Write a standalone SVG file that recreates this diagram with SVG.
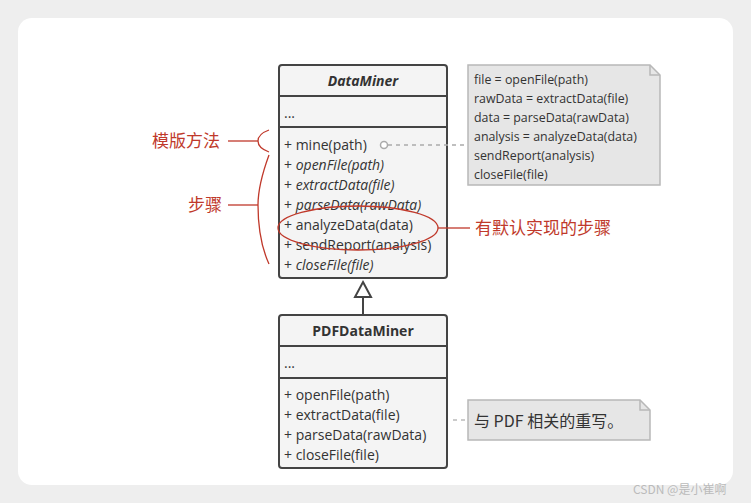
<svg xmlns="http://www.w3.org/2000/svg" width="751" height="503" viewBox="0 0 751 503">
<style>
.box{fill:#f4f4f4;stroke:#444;stroke-width:2}
.t{font-family:"Open Sans","Noto Sans",sans-serif;font-size:14px;fill:#333}
.i{font-style:italic}
.b{font-weight:bold}
.r{font-family:"Noto Sans CJK SC",sans-serif;font-size:17px;fill:#c0392b}
.red{stroke:#c0392b;stroke-width:1.3;fill:none}
.note{fill:#e6e6e6;stroke:#b8b8b8;stroke-width:1.5}
.nt{font-family:"Open Sans","Noto Sans",sans-serif;font-size:12.4px;fill:#333}
</style>
<rect width="751" height="503" fill="#eeeeee"/>
<rect x="18" y="18" width="715" height="467" rx="14" fill="#ffffff"/>
<g id="DataMiner">
<rect class="box" x="279" y="65" width="168" height="213" rx="3"/>
<line x1="279" y1="96" x2="447" y2="96" stroke="#444" stroke-width="2"/>
<line x1="279" y1="127" x2="447" y2="127" stroke="#444" stroke-width="2"/>
<text class="t i b" x="363" y="86" text-anchor="middle">DataMiner</text>
<text class="t" x="284" y="118">...</text>
<text class="t" x="284" y="150">+ mine(path)</text>
<text class="t" x="284" y="170">+ <tspan class="i">openFile(path)</tspan></text>
<text class="t" x="284" y="190">+ <tspan class="i">extractData(file)</tspan></text>
<text class="t" x="284" y="210">+ <tspan class="i">parseData(rawData)</tspan></text>
<text class="t" x="284" y="230">+ analyzeData(data)</text>
<text class="t" x="284" y="250">+ sendReport(analysis)</text>
<text class="t" x="284" y="270">+ <tspan class="i">closeFile(file)</tspan></text>
</g>
<g id="PDFDataMiner">
<rect class="box" x="279" y="315" width="168" height="153" rx="3"/>
<line x1="279" y1="346" x2="447" y2="346" stroke="#444" stroke-width="2"/>
<line x1="279" y1="378" x2="447" y2="378" stroke="#444" stroke-width="2"/>
<text class="t b" x="363" y="336" text-anchor="middle">PDFDataMiner</text>
<text class="t" x="284" y="368">...</text>
<text class="t" x="284" y="400">+ openFile(path)</text>
<text class="t" x="284" y="420">+ extractData(file)</text>
<text class="t" x="284" y="440">+ parseData(rawData)</text>
<text class="t" x="284" y="460">+ closeFile(file)</text>
</g>
<g id="note1">
<path class="note" d="M468,65 H650 L660,75 V185 H468 Z"/>
<path d="M650,65 V75 H660" fill="none" stroke="#b8b8b8" stroke-width="1.5"/>
<text class="nt" x="474" y="84">file = openFile(path)</text>
<text class="nt" x="474" y="103">rawData = extractData(file)</text>
<text class="nt" x="474" y="122">data = parseData(rawData)</text>
<text class="nt" x="474" y="141">analysis = analyzeData(data)</text>
<text class="nt" x="474" y="160">sendReport(analysis)</text>
<text class="nt" x="474" y="179">closeFile(file)</text>
</g>
<g id="note2">
<path class="note" d="M468,400 H640 L650,410 V440 H468 Z"/>
<path d="M640,400 V410 H650" fill="none" stroke="#b8b8b8" stroke-width="1.5"/>
<text x="474" y="427" font-family="Noto Sans CJK SC,sans-serif" font-size="16" fill="#333">与 PDF 相关的重写。</text>
</g>
<g id="connectors">
<line x1="363" y1="297" x2="363" y2="315" stroke="#444" stroke-width="2"/>
<path d="M363,282 L371,297 H355 Z" fill="#fff" stroke="#444" stroke-width="2"/>
<circle cx="384" cy="145" r="3.5" fill="#fff" stroke="#aaa" stroke-width="1.5"/>
<line x1="388" y1="145" x2="468" y2="145" stroke="#aaa" stroke-width="1.5" stroke-dasharray="4,4"/>
<line x1="453" y1="420" x2="466" y2="420" stroke="#bbb" stroke-width="1.5" stroke-dasharray="4,4"/>
</g>
<g id="annotations">
<ellipse cx="358" cy="228" rx="80" ry="22" fill="#c0392b" fill-opacity="0.15" class="red"/>
<line class="red" x1="438" y1="228" x2="470" y2="228"/>
<text class="r" x="475" y="234">有默认实现的步骤</text>
<path class="red" d="M269,130 Q258,134 258,141 Q258,148 269,152"/>
<line class="red" x1="228" y1="141" x2="258" y2="141"/>
<text class="r" x="152" y="147">模版方法</text>
<path class="red" d="M269,155 Q258,185 258,205 Q258,240 269,264"/>
<line class="red" x1="228" y1="205" x2="258" y2="205"/>
<text class="r" x="188" y="211">步骤</text>
</g>
<text x="633" y="494" font-family="Noto Sans CJK SC,sans-serif" font-size="12" fill="#bbb">CSDN @是小崔啊</text>
</svg>
